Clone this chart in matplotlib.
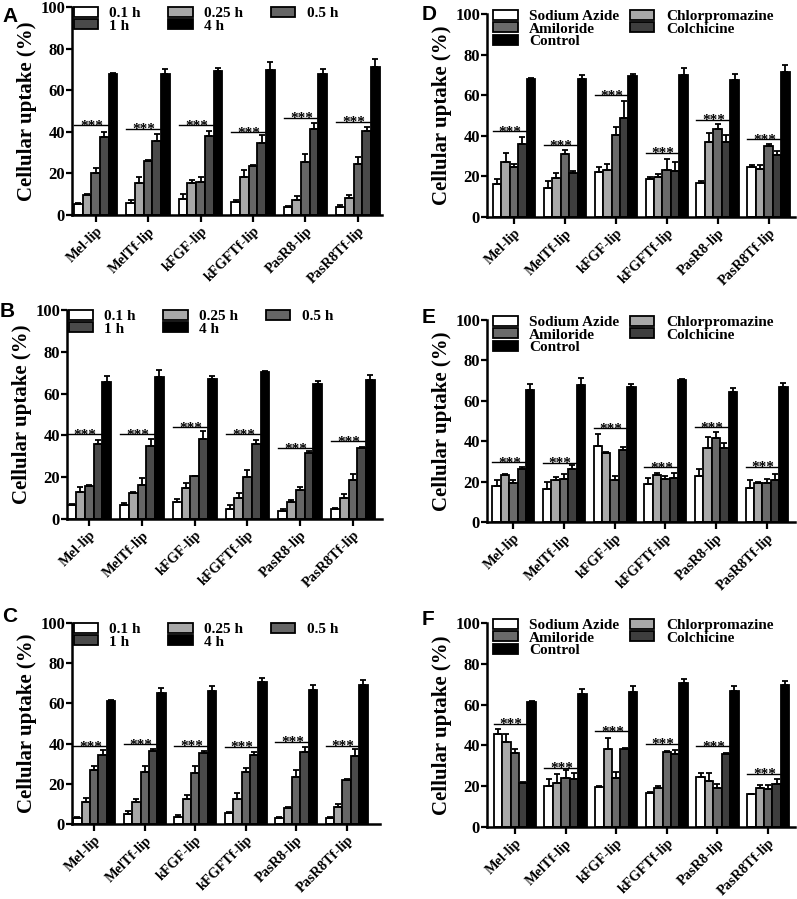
import matplotlib.pyplot as plt
import numpy as np
from matplotlib.patches import Patch

plt.rcParams["font.family"] = ["Liberation Serif", "DejaVu Serif"]
plt.rcParams["font.weight"] = "bold"

groups = ["Mel-lip", "MelTf-lip", "kFGF-lip", "kFGFTf-lip", "PasR8-lip", "PasR8Tf-lip"]
time_labels = ["0.1 h", "0.25 h", "0.5 h", "1 h", "4 h"]
inhib_labels = ["Sodium Azide", "Chlorpromazine", "Amiloride", "Colchicine", "Control"]

# panel A (time course)
a_mean = [
    [5.3, 6.0, 7.6, 6.1, 4.0, 3.7],
    [9.7, 15.3, 15.6, 18.2, 7.3, 8.0],
    [20.4, 26.0, 16.1, 23.4, 25.6, 24.4],
    [37.6, 35.5, 38.0, 34.8, 41.3, 40.5],
    [68.0, 68.0, 69.3, 69.8, 67.6, 71.3],
]
a_err = [
    [0.7, 1.4, 2.6, 1.2, 0.3, 1.3],
    [0.5, 2.9, 1.0, 3.6, 1.9, 1.5],
    [2.2, 0.4, 2.4, 0.6, 3.9, 3.5],
    [2.1, 3.4, 2.3, 3.7, 2.7, 1.9],
    [0.3, 2.1, 1.3, 3.8, 2.7, 3.5],
]
a_sig = [43.2, 41.5, 43.2, 39.7, 46.8, 44.7]

# panel B
b_mean = [
    [6.6, 6.6, 8.3, 4.6, 3.7, 4.6],
    [13.1, 12.3, 14.6, 10.2, 8.3, 9.9],
    [16.0, 16.3, 20.5, 20.3, 13.8, 18.6],
    [35.7, 34.9, 38.2, 35.7, 31.7, 34.2],
    [65.4, 67.9, 66.9, 70.5, 64.6, 66.7],
]
b_err = [
    [0.8, 0.9, 1.5, 2.0, 1.1, 0.8],
    [2.3, 0.5, 2.5, 2.1, 0.8, 2.3],
    [0.4, 3.5, 0.3, 3.2, 1.4, 2.8],
    [2.1, 3.2, 3.7, 2.2, 0.8, 0.4],
    [3.1, 3.2, 1.3, 0.3, 1.6, 2.2],
]
b_sig = [40.5, 40.5, 43.8, 40.5, 33.9, 37.1]

# panel C
c_mean = [
    [2.8, 4.8, 3.6, 5.3, 2.8, 2.8],
    [10.8, 10.9, 12.4, 12.4, 8.1, 8.3],
    [26.8, 25.7, 25.3, 25.7, 23.5, 21.9],
    [34.3, 36.4, 35.4, 34.3, 35.8, 33.8],
    [61.4, 65.2, 66.4, 70.5, 66.9, 69.4],
]
c_err = [
    [0.5, 1.8, 0.7, 0.5, 0.5, 0.8],
    [2.2, 1.5, 2.0, 2.8, 0.4, 1.6],
    [2.2, 3.4, 3.7, 2.3, 3.3, 0.5],
    [2.5, 0.9, 1.0, 1.7, 2.6, 3.3],
    [0.3, 2.5, 2.5, 1.9, 2.1, 2.1],
]
c_sig = [38.7, 39.7, 38.8, 38.3, 40.8, 39.0]

# panel D (inhibitors); control = 4 h of A
d_mean = [
    [16.2, 14.3, 22.0, 18.5, 16.6, 24.4],
    [26.9, 19.3, 23.1, 19.5, 37.0, 23.8],
    [24.8, 31.0, 40.5, 23.0, 43.3, 35.0],
    [35.9, 21.5, 48.6, 22.8, 36.7, 30.5],
    a_mean[4],
]
d_err = [
    [2.3, 3.2, 2.8, 1.3, 1.3, 1.2],
    [4.4, 2.3, 2.9, 1.9, 4.3, 1.8],
    [1.2, 2.0, 3.9, 5.4, 2.7, 0.8],
    [3.3, 1.3, 8.4, 4.5, 3.6, 2.1],
    a_err[4],
]
d_sig = [42.3, 35.4, 60.0, 31.6, 48.0, 38.2]

# panel E; control = 4 h of B
e_mean = [
    [17.7, 16.2, 37.5, 18.7, 22.6, 17.0],
    [23.3, 20.7, 34.2, 23.5, 36.5, 19.3],
    [19.3, 21.2, 20.7, 21.3, 41.7, 19.3],
    [26.0, 26.0, 35.5, 22.0, 36.5, 21.0],
    b_mean[4],
]
e_err = [
    [3.3, 3.5, 6.0, 3.3, 3.4, 3.7],
    [0.7, 1.6, 0.3, 1.0, 5.8, 0.5],
    [1.7, 2.4, 1.9, 1.5, 2.8, 2.2],
    [1.3, 2.4, 1.7, 2.3, 2.5, 3.0],
    b_err[4],
]
e_sig = [29.6, 29.4, 46.3, 27.0, 47.0, 27.3]

# panel F; control = 4 h of C
f_mean = [
    [45.4, 19.9, 19.4, 16.8, 24.5, 16.0],
    [41.7, 21.6, 38.0, 19.1, 22.7, 19.3],
    [36.4, 23.9, 24.2, 36.8, 19.1, 18.8],
    [21.6, 23.5, 38.3, 36.0, 36.0, 20.9],
    c_mean[4],
]
f_err = [
    [2.8, 3.8, 0.5, 0.5, 2.0, 0.3],
    [3.7, 4.5, 5.6, 1.2, 3.8, 1.5],
    [2.0, 3.9, 2.8, 0.3, 2.1, 1.6],
    [0.4, 3.0, 0.3, 1.9, 0.3, 2.8],
    c_err[4],
]
f_sig = [50.5, 29.1, 46.9, 40.7, 39.6, 26.1]

TIME_COLORS = ["white", "#a8a8a8", "#666666", "#4a4a4a", "black"]
INHIB_COLORS = ["white", "#a8a8a8", "#6a6a6a", "#3e3e3e", "black"]

W, H = 797, 899
BAR_W = 0.166


def px_axes(fig, left, right, top, bottom):
    return fig.add_axes([left / W, 1 - bottom / H, (right - left) / W, (bottom - top) / H])


def draw_panel(ax, means, errs, sig, labels, colors, ncol, order, xlim,
               col_space, leg_anchor):
    x = np.arange(len(groups))
    n = len(labels)
    for i in range(n):
        xi = x + (i - (n - 1) / 2) * BAR_W
        ax.bar(xi, means[i], BAR_W, color=colors[i], edgecolor="black",
               linewidth=1.3, zorder=2)
        ax.errorbar(xi, means[i], yerr=[np.zeros(len(groups)), errs[i]],
                    fmt="none", ecolor="black", elinewidth=1.3, capsize=2.3,
                    capthick=1.3, zorder=3)

    # *** marks over the first four bars of each group
    for xc, yl in zip(x, sig):
        x0 = xc - 2.5 * BAR_W
        x1 = xc + 1.6 * BAR_W
        ax.plot([x0, x1], [yl, yl], color="black", lw=1.0, zorder=4)
        ax.annotate("***", ((x0 + x1) / 2, yl), xytext=(0, -3.2),
                    textcoords="offset points", ha="center", va="baseline",
                    fontsize=11, fontweight="bold", zorder=4)

    ax.set_xlim(*xlim)
    ax.set_ylim(0, 100)
    ax.set_yticks([0, 20, 40, 60, 80, 100])
    ax.set_xticks(x)
    ax.set_xticklabels(groups, rotation=45, ha="right", va="top",
                       rotation_mode="anchor", fontsize=10.3, fontweight="bold")
    ax.tick_params(axis="y", labelsize=12, width=1.6, length=4, pad=1)
    ax.tick_params(axis="x", width=1.6, length=5, pad=2)
    for lab in ax.get_yticklabels():
        lab.set_fontweight("bold")
    for side in ["top", "right"]:
        ax.spines[side].set_visible(False)
    for side in ["left", "bottom"]:
        ax.spines[side].set_linewidth(1.8)
    ax.set_ylabel("Cellular uptake (%)", fontsize=15, fontweight="bold", labelpad=2)

    handles = [Patch(facecolor=colors[i], edgecolor="black", linewidth=1.3) for i in order]
    ax.legend(handles, [labels[i] for i in order], ncol=ncol, loc="upper left",
              bbox_to_anchor=leg_anchor, frameon=False, borderpad=0,
              borderaxespad=0, handlelength=1.6, handleheight=0.6,
              handletextpad=0.75, labelspacing=-0.05, columnspacing=col_space,
              prop={"weight": "bold", "size": 11})


fig = plt.figure(figsize=(W / 100, H / 100), dpi=100)

ax_a = px_axes(fig, 72, 382, 7, 215)
ax_b = px_axes(fig, 67, 382, 310, 519)
ax_c = px_axes(fig, 72, 380, 623, 824)
ax_d = px_axes(fig, 487, 795, 14, 217)
ax_e = px_axes(fig, 487, 795, 320, 522)
ax_f = px_axes(fig, 487, 795, 623, 827)

time_order = [0, 3, 1, 4, 2]
inhib_order = [0, 2, 4, 1, 3]

draw_panel(ax_a, a_mean, a_err, a_sig, time_labels, TIME_COLORS, 3, time_order,
           (-0.45, 5.46), 1.8, (0.005, 1.0))
draw_panel(ax_b, b_mean, b_err, b_sig, time_labels, TIME_COLORS, 3, time_order,
           (-0.42, 5.55), 1.8, (0.005, 1.0))
draw_panel(ax_c, c_mean, c_err, c_sig, time_labels, TIME_COLORS, 3, time_order,
           (-0.44, 5.66), 1.8, (0.005, 1.0))
draw_panel(ax_d, d_mean, d_err, d_sig, inhib_labels, INHIB_COLORS, 2, inhib_order,
           (-0.53, 5.52), 0.7, (0.02, 1.02))
draw_panel(ax_e, e_mean, e_err, e_sig, inhib_labels, INHIB_COLORS, 2, inhib_order,
           (-0.52, 5.56), 0.7, (0.02, 1.02))
draw_panel(ax_f, f_mean, f_err, f_sig, inhib_labels, INHIB_COLORS, 2, inhib_order,
           (-0.55, 5.53), 0.7, (0.02, 1.02))

letters = [("A", 2, 7), ("B", 0, 302), ("C", 2, 607), ("D", 422, 5), ("E", 422, 308), ("F", 422, 610)]
for letter, px, py in letters:
    fig.text(px / W, 1 - py / H, letter, ha="left", va="top", fontsize=15,
             fontweight="bold", family=["Liberation Sans", "DejaVu Sans"])

fig.savefig("out.png", dpi=100)
